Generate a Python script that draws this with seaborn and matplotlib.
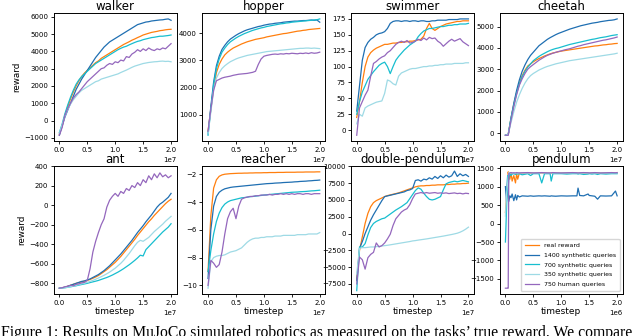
import numpy as np
import pandas as pd
import matplotlib
matplotlib.use("Agg")
import matplotlib.pyplot as plt
import seaborn as sns

#%% data (timesteps in millions)
methods = ["real reward", "1400 synthetic queries", "700 synthetic queries",
           "350 synthetic queries", "750 human queries"]
colors = ["#ff7f0e", "#1f6fb2", "#17becf", "#9edae5", "#9467bd"]

steps_m = [
    0,
    0.5, 1, 1.5, 2, 2.5, 3, 3.5, 4, 4.5, 5,
    5.5, 6, 6.5, 7, 7.5, 8, 8.5, 9, 9.5, 10,
    10.5, 11, 11.5, 12, 12.5, 13, 13.5, 14, 14.5, 15,
    15.5, 16, 16.5, 17, 17.5, 18, 18.5, 19, 19.5, 20,
]

# walker
walker_real = [
    -800,
    -300, 300, 800, 1250, 1650, 2000, 2300, 2550, 2750, 2900,
    3050, 3200, 3350, 3450, 3600, 3700, 3800, 3900, 4000, 4100,
    4200, 4300, 4400, 4480, 4560, 4650, 4720, 4800, 4870, 4950,
    5000, 5050, 5100, 5130, 5160, 5200, 5220, 5250, 5270, 5280,
]
walker_1400 = [
    -850,
    -300, 200, 600, 1000, 1400, 1800, 2100, 2400, 2650, 2900,
    3150, 3400, 3650, 3850, 4050, 4250, 4400, 4550, 4650, 4750,
    4850, 4950, 5050, 5150, 5250, 5350, 5450, 5550, 5600, 5650,
    5700, 5720, 5760, 5780, 5800, 5820, 5830, 5860, 5880, 5800,
]
walker_700 = [
    -700,
    -200, 400, 900, 1350, 1750, 2100, 2350, 2550, 2700, 2850,
    3000, 3150, 3300, 3400, 3500, 3600, 3700, 3800, 3900, 4000,
    4100, 4180, 4250, 4300, 4380, 4450, 4520, 4580, 4620, 4680,
    4720, 4760, 4800, 4820, 4850, 4880, 4880, 4900, 4920, 4950,
]
walker_350 = [
    -750,
    -250, 250, 650, 950, 1200, 1400, 1600, 1750, 1850, 1950,
    2050, 2150, 2250, 2300, 2400, 2450, 2500, 2550, 2600, 2650,
    2700, 2780, 2850, 2920, 3000, 3080, 3150, 3200, 3250, 3300,
    3330, 3360, 3380, 3400, 3410, 3430, 3440, 3420, 3430, 3400,
]
walker_human = [
    -850,
    -400, 300, 700, 1000, 1300, 1500, 1650, 1850, 2050, 2250,
    2400, 2550, 2700, 2850, 3000, 3050, 3200, 3300, 3250, 3400,
    3350, 3500, 3450, 3700, 3650, 3850, 3950, 4100, 4000, 4150,
    4050, 4200, 4100, 4050, 4150, 4100, 4200, 4150, 4300, 4450,
]

# hopper
hopper_real = [
    400,
    1200, 2000, 2550, 2850, 3050, 3200, 3300, 3380, 3450, 3500,
    3550, 3600, 3640, 3680, 3710, 3740, 3770, 3790, 3810, 3830,
    3860, 3880, 3900, 3920, 3940, 3960, 3980, 3990, 4010, 4030,
    4050, 4070, 4080, 4100, 4110, 4130, 4140, 4150, 4160, 4170,
]
hopper_1400 = [
    300,
    1300, 2200, 2800, 3150, 3400, 3550, 3680, 3780, 3850, 3920,
    3980, 4030, 4080, 4120, 4150, 4180, 4210, 4240, 4260, 4290,
    4310, 4330, 4340, 4360, 4370, 4380, 4400, 4410, 4420, 4430,
    4440, 4440, 4450, 4460, 4460, 4470, 4480, 4470, 4480, 4400,
]
hopper_700 = [
    250,
    1200, 2100, 2700, 3050, 3300, 3450, 3580, 3680, 3750, 3820,
    3880, 3930, 3980, 4020, 4060, 4100, 4130, 4160, 4190, 4210,
    4240, 4260, 4280, 4300, 4320, 4340, 4350, 4370, 4380, 4400,
    4410, 4420, 4430, 4440, 4450, 4460, 4470, 4480, 4490, 4520,
]
hopper_350 = [
    300,
    1100, 1900, 2350, 2550, 2700, 2800, 2880, 2950, 3000, 3050,
    3090, 3120, 3150, 3180, 3200, 3220, 3240, 3260, 3280, 3300,
    3320, 3330, 3340, 3350, 3360, 3370, 3380, 3390, 3400, 3410,
    3420, 3430, 3440, 3440, 3450, 3450, 3440, 3450, 3440, 3430,
]
hopper_human = [
    400,
    1200, 1900, 2250, 2300, 2350, 2380, 2400, 2420, 2450, 2470,
    2490, 2500, 2510, 2520, 2540, 2560, 2600, 2850, 3050, 3150,
    3180, 3200, 3220, 3230, 3220, 3240, 3230, 3250, 3240, 3260,
    3250, 3240, 3260, 3250, 3270, 3250, 3280, 3260, 3270, 3300,
]

# swimmer
swimmer_real = [
    20,
    45, 75, 100, 115, 122, 126, 129, 131, 133, 135,
    135, 136, 137, 137, 138, 138, 139, 139, 140, 140,
    141, 142, 143, 148, 160, 168, 160, 157, 160, 163,
    165, 167, 168, 169, 170, 171, 171, 172, 172, 172,
]
swimmer_1400 = [
    30,
    70, 110, 130, 138, 143, 146, 150, 152, 153, 155,
    160, 168, 171, 172, 172, 171, 172, 172, 171, 172,
    172, 171, 172, 172, 171, 171, 172, 172, 173, 173,
    173, 173, 174, 174, 174, 174, 175, 175, 175, 175,
]
swimmer_700 = [
    25,
    45, 60, 70, 80, 86, 92, 97, 102, 105, 107,
    100, 89, 100, 110, 116, 121, 126, 130, 134, 137,
    140, 147, 152, 156, 158, 160, 160, 161, 162, 163,
    163, 164, 165, 165, 166, 166, 167, 167, 167, 168,
]
swimmer_350 = [
    10,
    25, 22, 35, 38, 40, 42, 44, 45, 46, 58,
    79, 77, 73, 71, 85, 90, 92, 94, 96, 97,
    97, 98, 99, 100, 100, 101, 101, 102, 102, 103,
    103, 104, 104, 104, 105, 105, 105, 105, 106, 106,
]
swimmer_human = [
    -8,
    35, 45, 55, 63, 85, 105, 108, 112, 115, 117,
    122, 125, 130, 135, 138, 140, 138, 141, 137, 138,
    140, 143, 141, 145, 142, 146, 144, 145, 140, 137,
    132, 136, 140, 143, 140, 142, 144, 139, 136, 133,
]

# cheetah
cheetah_real = [
    -100,
    -50, 700, 1350, 1900, 2350, 2700, 2950, 3150, 3250, 3350,
    3430, 3500, 3560, 3620, 3670, 3720, 3760, 3790, 3820, 3850,
    3870, 3890, 3910, 3930, 3950, 3970, 3990, 4010, 4030, 4050,
    4070, 4090, 4100, 4120, 4140, 4150, 4170, 4180, 4200, 4210,
]
cheetah_1400 = [
    -100,
    -80, 700, 1400, 2000, 2500, 2900, 3200, 3450, 3650, 3800,
    3950, 4100, 4200, 4300, 4400, 4480, 4550, 4620, 4680, 4730,
    4780, 4830, 4880, 4920, 4960, 5000, 5040, 5070, 5100, 5130,
    5160, 5180, 5200, 5230, 5250, 5270, 5290, 5300, 5320, 5360,
]
cheetah_700 = [
    -100,
    -50, 700, 1300, 1850, 2300, 2650, 2900, 3100, 3250, 3400,
    3500, 3600, 3680, 3750, 3820, 3880, 3930, 3970, 4000, 4040,
    4080, 4120, 4160, 4190, 4220, 4250, 4280, 4310, 4340, 4370,
    4400, 4420, 4450, 4480, 4500, 4520, 4550, 4580, 4600, 4620,
]
cheetah_350 = [
    -100,
    -50, 500, 1000, 1450, 1800, 2100, 2350, 2550, 2700, 2800,
    2880, 2960, 3020, 3080, 3130, 3170, 3210, 3250, 3280, 3310,
    3340, 3370, 3400, 3420, 3440, 3460, 3480, 3500, 3520, 3540,
    3560, 3580, 3600, 3620, 3640, 3660, 3680, 3700, 3720, 3750,
]
cheetah_human = [
    -100,
    -100, 600, 1250, 1800, 2250, 2550, 2800, 3000, 3120, 3220,
    3320, 3420, 3500, 3580, 3650, 3700, 3750, 3790, 3830, 3860,
    3900, 3930, 3960, 4000, 4040, 4080, 4110, 4150, 4180, 4210,
    4240, 4270, 4300, 4330, 4360, 4380, 4410, 4440, 4470, 4510,
]

# ant
ant_real = [
    -850,
    -845, -840, -830, -820, -810, -800, -792, -785, -778, -770,
    -760, -748, -735, -720, -700, -680, -660, -635, -610, -585,
    -555, -525, -490, -455, -420, -385, -350, -310, -275, -240,
    -205, -170, -140, -105, -75, -45, -15, 15, 40, 60,
]
ant_1400 = [
    -850,
    -845, -840, -830, -820, -810, -800, -790, -780, -775, -765,
    -755, -740, -725, -710, -690, -670, -645, -620, -590, -560,
    -530, -500, -465, -430, -395, -360, -320, -280, -245, -210,
    -170, -135, -100, -60, -20, 10, 30, 55, 80, 120,
]
ant_700 = [
    -850,
    -848, -845, -840, -835, -830, -825, -818, -812, -806, -800,
    -792, -785, -778, -770, -760, -750, -740, -728, -715, -700,
    -685, -668, -650, -630, -610, -588, -565, -540, -512, -520,
    -455, -425, -395, -365, -335, -305, -275, -250, -225, -190,
]
ant_350 = [
    -850,
    -848, -845, -840, -835, -828, -820, -812, -805, -798, -790,
    -780, -770, -758, -745, -732, -718, -702, -685, -665, -645,
    -620, -595, -565, -530, -495, -455, -415, -380, -360, -370,
    -350, -330, -300, -270, -245, -220, -195, -165, -140, -115,
]
ant_human = [
    -850,
    -845, -835, -830, -820, -825, -810, -805, -795, -790, -770,
    -650, -480, -370, -280, -200, -140, -20, 50, 90, 120,
    90, 140, 120, 170, 150, 200, 180, 230, 200, 260,
    230, 300, 260, 320, 280, 330, 290, 310, 280, 300,
]

# reacher
reacher_real = [
    -9,
    -5, -3.0, -2.4, -2.15, -2.05, -2.0, -1.98, -1.96, -1.95, -1.94,
    -1.93, -1.93, -1.92, -1.92, -1.91, -1.91, -1.9, -1.9, -1.9, -1.89,
    -1.89, -1.88, -1.88, -1.88, -1.87, -1.87, -1.87, -1.86, -1.86, -1.86,
    -1.86, -1.85, -1.85, -1.85, -1.84, -1.84, -1.84, -1.84, -1.83, -1.83,
]
reacher_1400 = [
    -9.5,
    -6.0, -4.3, -3.6, -3.3, -3.15, -3.05, -3.0, -2.95, -2.92, -2.9,
    -2.88, -2.86, -2.84, -2.82, -2.8, -2.78, -2.76, -2.74, -2.72, -2.7,
    -2.68, -2.67, -2.66, -2.64, -2.63, -2.62, -2.6, -2.59, -2.58, -2.57,
    -2.55, -2.54, -2.52, -2.51, -2.5, -2.48, -2.47, -2.45, -2.44, -2.42,
]
reacher_700 = [
    -9,
    -7.5, -6.3, -5.4, -4.8, -4.4, -4.15, -4.0, -3.9, -3.85, -3.8,
    -3.75, -3.7, -3.68, -3.65, -3.62, -3.6, -3.58, -3.55, -3.53, -3.5,
    -3.48, -3.46, -3.44, -3.42, -3.4, -3.38, -3.36, -3.34, -3.32, -3.3,
    -3.29, -3.28, -3.26, -3.25, -3.24, -3.22, -3.2, -3.19, -3.17, -3.15,
]
reacher_350 = [
    -10.2,
    -8.3, -8.0, -7.9, -7.85, -7.85, -7.8, -7.7, -7.6, -7.55, -7.5,
    -7.4, -7.3, -7.1, -6.9, -6.75, -6.65, -6.6, -6.6, -6.55, -6.55,
    -6.5, -6.5, -6.5, -6.45, -6.45, -6.45, -6.4, -6.4, -6.4, -6.4,
    -6.4, -6.35, -6.35, -6.35, -6.35, -6.3, -6.3, -6.3, -6.3, -6.2,
]
reacher_human = [
    -10,
    -8.2, -8.4, -8.7, -8.5, -7.6, -6.3, -5.2, -4.7, -4.45, -5.2,
    -4.3, -3.8, -3.7, -3.65, -3.6, -3.6, -3.55, -3.55, -3.5, -3.5,
    -3.5, -3.45, -3.5, -3.45, -3.45, -3.4, -3.45, -3.4, -3.45, -3.4,
    -3.45, -3.4, -3.4, -3.45, -3.4, -3.4, -3.45, -3.4, -3.4, -3.4,
]

# double-pendulum
dpend_real = [
    -7000,
    -2500, -500, 1500, 3000, 4000, 4600, 4900, 5100, 5300, 5500,
    5650, 5750, 5850, 5950, 6050, 6200, 6350, 6500, 6650, 6800,
    6950, 7050, 7100, 7100, 7150, 7150, 7200, 7200, 7250, 7250,
    7250, 7300, 7300, 7350, 7350, 7400, 7400, 7450, 7450, 7500,
]
dpend_1400 = [
    -7000,
    -2200, -1200, 0, 1000, 2000, 2800, 3500, 4200, 4900, 5500,
    5600, 5700, 5800, 5900, 6000, 6100, 6200, 6400, 6500, 6700,
    7900, 8000, 7800, 8100, 8000, 8300, 8100, 8500, 8200, 8600,
    8300, 8700, 8400, 8600, 9300, 8500, 8900, 8600, 8800, 8500,
]
dpend_700 = [
    -8500,
    -2000, -2000, -1500, -200, 900, 1500, 1800, 2000, 2200, 2300,
    2600, 2900, 3200, 3500, 3750, 4000, 4300, 4600, 5200, 5800,
    6400, 6800, 6600, 6000, 5500, 5100, 5000, 5100, 5300, 5500,
    6500, 7400, 7600, 7700, 7800, 7700, 7800, 7900, 7800, 7700,
]
dpend_350 = [
    -6000,
    -2200, -2100, -2100, -2050, -2000, -2000, -1950, -1900, -1850, -1800,
    -1750, -1680, -1610, -1540, -1470, -1400, -1330, -1260, -1190, -1100,
    -1050, -980, -920, -860, -800, -730, -660, -590, -520, -450,
    -380, -300, -220, -140, -50, 50, 200, 400, 650, 950,
]
dpend_human = [
    -7500,
    -3500, -3900, -5300, -3600, -3100, -2800, -1400, -2000, -1800, -1400,
    -800, -100, 1200, 2200, 2700, 3200, 3500, 3700, 4300, 5200,
    5900, 6000, 6100, 6000, 6100, 6000, 6050, 6100, 6000, 6050,
    6000, 6050, 5950, 6000, 6050, 5950, 6000, 5900, 6000, 5950,
]

# pendulum (timesteps in millions, 2e6 run)
pend_steps_m = [
    0,
    0.02, 0.04, 0.05, 0.06, 0.08, 0.1, 0.12, 0.15, 0.18, 0.2,
    0.22, 0.25, 0.3, 0.4, 0.45, 0.5, 0.6, 0.65, 0.7, 0.8,
    0.82, 0.85, 0.9, 1.0, 1.1, 1.2, 1.28, 1.3, 1.33, 1.4,
    1.48, 1.5, 1.55, 1.6, 1.65, 1.7, 1.8, 1.9, 1.97, 2.0,
]
pend_real = [
    300,
    700, 1100, 1400, 1300, 1200, 1380, 1150, 1300, 1100, 1350,
    1200, 1370, 1370, 1370, 1370, 1370, 1370, 1370, 1370, 1370,
    1370, 1370, 1370, 1370, 1370, 1370, 1370, 1370, 1370, 1370,
    1370, 1370, 1370, 1370, 1370, 1370, 1370, 1370, 1370, 1370,
]
pend_1400 = [
    1000,
    600, 1300, 900, 600, 750, 700, 800, 620, 780, 640,
    760, 720, 750, 740, 750, 740, 750, 745, 750, 740,
    750, 745, 740, 750, 745, 750, 750, 960, 760, 750,
    800, 760, 750, 740, 660, 750, 745, 750, 880, 750,
]
pend_700 = [
    -500,
    400, 1300, 1000, 1200, 1350, 1300, 1340, 1350, 1330, 1350,
    1340, 1350, 1320, 1350, 1300, 1350, 1350, 1100, 1350, 1350,
    1150, 1350, 1350, 1350, 1340, 1350, 1350, 1340, 1350, 1330,
    1340, 1350, 1340, 1350, 1330, 1350, 1340, 1350, 1350, 1350,
]
pend_350 = [
    200,
    800, 1100, 1250, 1380, 1360, 1370, 1370, 1370, 1370, 1370,
    1370, 1370, 1370, 1370, 1370, 1370, 1370, 1370, 1370, 1370,
    1370, 1370, 1370, 1370, 1370, 1370, 1370, 1370, 1370, 1370,
    1370, 1370, 1370, 1370, 1370, 1370, 1370, 1370, 1370, 1370,
]
pend_human = [
    -1750,
    -1750, -1750, -1750, 1350, 1370, 1380, 1370, 1375, 1370, 1380,
    1375, 1370, 1375, 1380, 1375, 1370, 1375, 1380, 1375, 1370,
    1375, 1380, 1375, 1370, 1375, 1380, 1375, 1370, 1375, 1380,
    1375, 1370, 1375, 1380, 1375, 1370, 1375, 1380, 1375, 1380,
]

# y tick positions per panel
walker_yticks = [-1000, 0, 1000, 2000, 3000, 4000, 5000, 6000]
hopper_yticks = [1000, 2000, 3000, 4000]
swimmer_yticks = [0, 25, 50, 75, 100, 125, 150, 175]
cheetah_yticks = [0, 1000, 2000, 3000, 4000, 5000]
ant_yticks = [-800, -600, -400, -200, 0, 200, 400]
reacher_yticks = [-10, -8, -6, -4, -2]
dpend_yticks = [-7500, -5000, -2500, 0, 2500, 5000, 7500, 10000]
pend_yticks = [-1500, -1000, -500, 0, 500, 1000, 1500]

caption = ("Figure 1: Results on MuJoCo simulated robotics as measured on the "
           "tasks\u2019 true reward. We compare")

#%%
envs = [
    ("walker", steps_m, 1e6,
     [walker_real, walker_1400, walker_700, walker_350, walker_human], walker_yticks),
    ("hopper", steps_m, 1e6,
     [hopper_real, hopper_1400, hopper_700, hopper_350, hopper_human], hopper_yticks),
    ("swimmer", steps_m, 1e6,
     [swimmer_real, swimmer_1400, swimmer_700, swimmer_350, swimmer_human], swimmer_yticks),
    ("cheetah", steps_m, 1e6,
     [cheetah_real, cheetah_1400, cheetah_700, cheetah_350, cheetah_human], cheetah_yticks),
    ("ant", steps_m, 1e6,
     [ant_real, ant_1400, ant_700, ant_350, ant_human], ant_yticks),
    ("reacher", steps_m, 1e6,
     [reacher_real, reacher_1400, reacher_700, reacher_350, reacher_human], reacher_yticks),
    ("double-pendulum", steps_m, 1e6,
     [dpend_real, dpend_1400, dpend_700, dpend_350, dpend_human], dpend_yticks),
    ("pendulum", pend_steps_m, 1e6,
     [pend_real, pend_1400, pend_700, pend_350, pend_human], pend_yticks),
]

plt.rcParams["xtick.labelsize"] = 5
plt.rcParams["ytick.labelsize"] = 5

fig, axes = plt.subplots(2, 4, figsize=(6.4, 3.36), dpi=100)
fig.subplots_adjust(left=0.084, right=0.973, top=0.961, bottom=0.125,
                    wspace=0.21, hspace=0.195)

for i, (ax, (name, steps, scale, series, yticks)) in enumerate(zip(axes.flat, envs)):
    n = len(steps)
    df = pd.DataFrame({
        "timestep": np.tile(np.array(steps) * scale, len(methods)),
        "reward": np.concatenate(series),
        "method": np.repeat(methods, n),
    })
    sns.lineplot(data=df, x="timestep", y="reward", hue="method",
                 hue_order=methods, palette=colors, ax=ax, linewidth=0.9,
                 errorbar=None, legend=(name == "pendulum"))
    ax.set_title(name, fontsize=8.5, pad=2)
    ax.set_xticks(np.array([0, 0.5, 1.0, 1.5, 2.0]) * (10 * scale if name != "pendulum" else scale))
    ax.set_yticks(yticks)
    ax.tick_params(length=2.5, width=0.6, pad=1.5)
    ax.xaxis.get_offset_text().set_fontsize(5)
    if name == "double-pendulum":
        ax.set_ylim(-9000, 10050)
    ax.set_xlabel("timestep" if i >= 4 else "", fontsize=6.5, labelpad=1)
    ax.set_ylabel("reward" if i % 4 == 0 else "", fontsize=6.3, labelpad=2)
    for sp in ax.spines.values():
        sp.set_linewidth(0.7)

leg_ax = axes[1, 3]
handles, labels = leg_ax.get_legend_handles_labels()
leg_ax.legend(handles, labels, loc="lower right", fontsize=4.5,
              borderpad=0.6, labelspacing=0.7, handlelength=2.2)

# caption line of the paper, cut off by the lower edge as in the source
fig.text(0.002, -0.002, caption, family="Liberation Serif", fontsize=11.3,
         va="baseline", ha="left")

fig.savefig("out.png", dpi=100)
